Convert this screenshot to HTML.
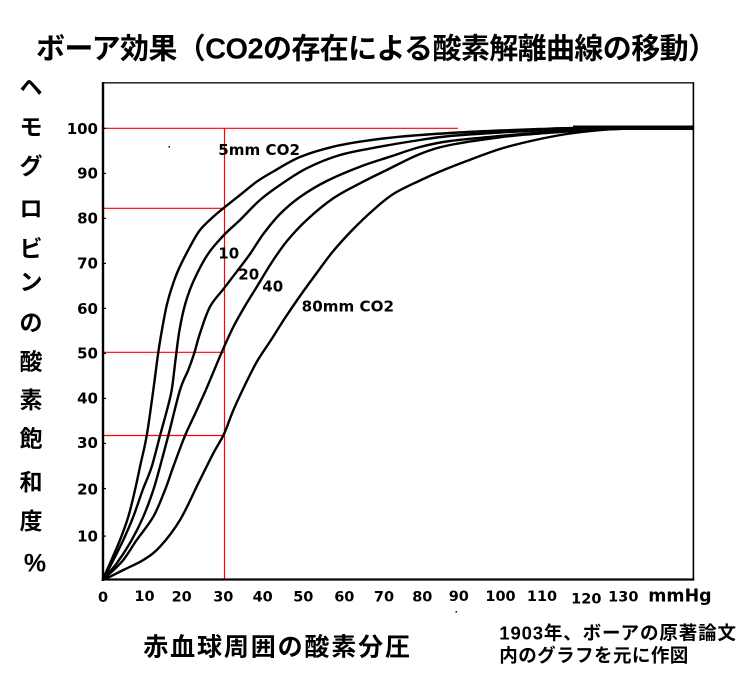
<!DOCTYPE html>
<html><head><meta charset="utf-8">
<style>
html,body{margin:0;padding:0;background:#fff;}
svg{display:block;}
.t{font-family:"Liberation Sans","Noto Sans CJK JP",sans-serif;font-weight:bold;fill:#000;}
.d{font-family:"DejaVu Sans","Liberation Sans",sans-serif;font-weight:bold;fill:#000;}
</style></head>
<body>
<svg width="742" height="676" viewBox="0 0 742 676" xmlns="http://www.w3.org/2000/svg">
<rect x="0" y="0" width="742" height="676" fill="#fff"/>

<!-- Title -->
<text class="t" x="36" y="58.5" font-size="29" textLength="681" lengthAdjust="spacing">ボーア効果（CO2の存在による酸素解離曲線の移動）</text>

<!-- Y axis label (vertical) -->
<g class="t" font-size="23" text-anchor="middle">
<text x="31" y="94.8">ヘ</text>
<text x="31" y="134.8">モ</text>
<text x="31" y="174.1">グ</text>
<text x="31" y="216.4">ロ</text>
<text x="31" y="256.4">ビ</text>
<text x="31" y="289.8">ン</text>
<text x="31" y="330.6">の</text>
<text x="31" y="369.4">酸</text>
<text x="31" y="408.1">素</text>
<text x="31" y="446.4">飽</text>
<text x="31" y="489.8">和</text>
<text x="31" y="528.9">度</text>
</g>
<text class="t" x="35" y="571.5" font-size="25" text-anchor="middle">%</text>

<!-- Y tick labels -->
<g class="d" font-size="15" text-anchor="end">
<text x="98" y="134">100</text>
<text x="98" y="178.7">90</text>
<text x="98" y="223.3">80</text>
<text x="98" y="268.5">70</text>
<text x="98" y="314">60</text>
<text x="98" y="358.5">50</text>
<text x="98" y="403.5">40</text>
<text x="98" y="448">30</text>
<text x="98" y="494.3">20</text>
<text x="98" y="541.7">10</text>
</g>

<!-- X tick labels -->
<g class="d" font-size="14.5" text-anchor="middle">
<text x="103" y="602">0</text>
<text x="144.5" y="601">10</text>
<text x="181.7" y="601.5">20</text>
<text x="223.3" y="601.5">30</text>
<text x="262.7" y="601.5">40</text>
<text x="303.3" y="601.5">50</text>
<text x="344.3" y="601.5">60</text>
<text x="384" y="601.5">70</text>
<text x="422.3" y="601.5">80</text>
<text x="458.8" y="601">90</text>
<text x="500.5" y="601">100</text>
<text x="542" y="601">110</text>
<text x="586.3" y="603.5">120</text>
<text x="623.3" y="601.3">130</text>
</g>
<text class="d" x="648.3" y="601.7" font-size="18" textLength="63.3" lengthAdjust="spacingAndGlyphs">mmHg</text>

<!-- Bottom texts -->
<text class="t" x="143.3" y="655.5" font-size="25" textLength="266.7" lengthAdjust="spacing">赤血球周囲の酸素分圧</text>
<text class="t" x="499.3" y="639.5" font-size="18.5" textLength="236.7" lengthAdjust="spacing">1903年、ボーアの原著論文</text>
<text class="t" x="499.3" y="661.8" font-size="18.5" textLength="189" lengthAdjust="spacing">内のグラフを元に作図</text>

<!-- Red guide lines -->
<g stroke="#ff0000" stroke-width="1.2" fill="none">
<line x1="103" y1="128.3" x2="458" y2="128.3"/>
<line x1="103" y1="208.3" x2="224.5" y2="208.3"/>
<line x1="103" y1="352.3" x2="224.5" y2="352.3"/>
<line x1="103" y1="435.5" x2="224.5" y2="435.5"/>
<line x1="224.5" y1="128.3" x2="224.5" y2="579"/>
</g>

<!-- Curves -->
<g id="curves" stroke="#000" stroke-width="2.4" fill="none" stroke-linejoin="round" stroke-linecap="round">
<!-- 5mm -->
<polyline points="103,579 110,563.3 120,540 128.3,516.7 135,490 140,466.7 146.7,435.7 153.3,390 158.3,352.3 162.3,328 166.8,305 172,287 178.3,270 190,246.7 200,230 213.3,216.7 223.3,208.3 240,195 256.7,181.7 273.3,171.5 300,157 333.3,146.7 366.7,140.7 400,136.7 450,133 500,130.5 540,129 580,128 693,128"/>
<!-- 10mm -->
<polyline points="103,579 111.7,563.3 123.3,540 133.3,516.7 142.7,490 151.7,466.7 160,435.7 167,410 171.7,390 175.5,360 179.5,330 185.5,303 194,280 208,254 224,235 240,220 260,200 280,185 306.7,168.3 340,155 380,146.7 420,140 450,136 500,132.5 550,130 600,128.5 693,128"/>
<!-- 20mm -->
<polyline points="103,579 116.7,563.3 131.7,540 143.3,516.7 153.3,490 160,466.7 168.3,435.7 180,390 188.3,370 194.3,353 200,333.3 210,306.7 224,288.3 236.7,271.7 250,254 263.3,234 280,214 300,197 326.7,181 360,166.7 390,156.7 420,147 450,141 500,136 550,132 600,129.5 640,128.3 693,128"/>
<!-- 40mm -->
<polyline points="103,579 110,573.3 123.3,560 136.7,540 153.3,516.7 165,490 173.3,466.7 185,435.7 195,414 206.7,388 221.7,352.3 233.3,327 245,306 256.7,287 272,262 287,241 306.7,220 333.3,198.3 360,183.3 386.7,170 420,154 450,145 500,137.3 533,134 566.7,131.5 600,129.5 630,128.5 693,128"/>
<!-- 80mm -->
<polyline points="103,579 110,576.7 123.3,570 143.3,560 160,546.7 180,520 198.3,483.3 213.3,453.3 224,434 233,411 244,387 256.7,362 271,340 285,318 300,296 316.7,273 333.3,251 353.3,229 373.3,210 393.3,194 420,180.5 440,171.5 466.7,161 500,149 533,140.5 566.7,134 600,130 630,128.5 693,128"/>
</g>
<rect x="573" y="125.5" width="120" height="4.5" fill="#000"/>

<!-- In-plot labels -->
<g class="d" font-size="15">
<text x="218.3" y="155" textLength="81.7" lengthAdjust="spacingAndGlyphs">5mm CO2</text>
<text x="218.3" y="258.3">10</text>
<text x="238.3" y="279.3">20</text>
<text x="262.3" y="291.7">40</text>
<text x="301.7" y="311.7" textLength="92.3" lengthAdjust="spacingAndGlyphs">80mm CO2</text>
</g>

<!-- stray dots -->
<rect x="168.5" y="146" width="1.5" height="1.5" fill="#000"/>
<rect x="455.5" y="611" width="1.5" height="1.5" fill="#000"/>

<!-- Axes / frame -->
<rect x="101.8" y="82" width="2.4" height="499" fill="#000"/>
<rect x="101.8" y="578.4" width="592.5" height="2.2" fill="#000"/>
<rect x="102" y="82.2" width="592" height="1.3" fill="#000"/>
<rect x="692.6" y="82.2" width="1.6" height="498" fill="#000"/>
<g fill="#000">
<rect x="104" y="127.8" width="2" height="1.2"/>
<rect x="104" y="172.8" width="2" height="1.2"/>
<rect x="104" y="217.8" width="2" height="1.2"/>
<rect x="104" y="262.8" width="2" height="1.2"/>
<rect x="104" y="307.8" width="2" height="1.2"/>
<rect x="104" y="352.8" width="2" height="1.2"/>
<rect x="104" y="397.8" width="2" height="1.2"/>
<rect x="104" y="442.8" width="2" height="1.2"/>
<rect x="104" y="488" width="2" height="1.2"/>
<rect x="104" y="535.5" width="2" height="1.2"/>
</g>
</svg>
<script>
(function(){
  var ns="http://www.w3.org/2000/svg";
  var g=document.getElementById("curves");
  var pls=g.querySelectorAll("polyline");
  for(var i=0;i<pls.length;i++){
    var pl=pls[i];
    var raw=pl.getAttribute("points").trim().split(/\s+/).map(function(s){var a=s.split(",");return [parseFloat(a[0]),parseFloat(a[1])];});
    var d="M"+raw[0][0]+","+raw[0][1];
    for(var k=0;k<raw.length-1;k++){
      var p0=raw[k-1]||raw[k],p1=raw[k],p2=raw[k+1],p3=raw[k+2]||raw[k+1];
      var c1x=p1[0]+(p2[0]-p0[0])/6,c1y=p1[1]+(p2[1]-p0[1])/6;
      var c2x=p2[0]-(p3[0]-p1[0])/6,c2y=p2[1]-(p3[1]-p1[1])/6;
      d+=" C"+c1x.toFixed(2)+","+c1y.toFixed(2)+" "+c2x.toFixed(2)+","+c2y.toFixed(2)+" "+p2[0]+","+p2[1];
    }
    var path=document.createElementNS(ns,"path");
    path.setAttribute("d",d);
    g.replaceChild(path,pl);
  }
})();
</script>
</body></html>
